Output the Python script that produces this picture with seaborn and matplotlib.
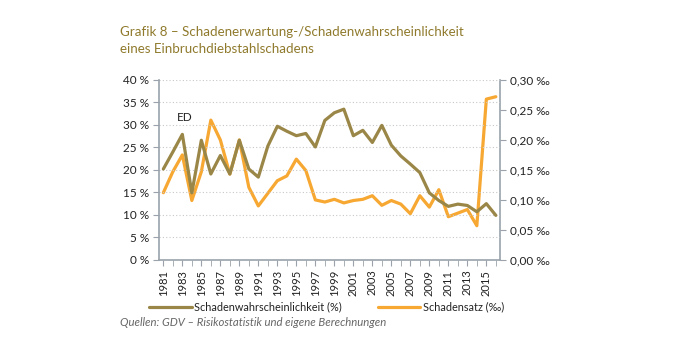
import matplotlib
matplotlib.use("Agg")
import matplotlib.pyplot as plt
import matplotlib.ticker as mticker
import pandas as pd
import seaborn as sns

# data
years = list(range(1981, 2017))
wahrscheinlichkeit = [20.2, 24.0, 27.9, 14.9, 26.6, 19.1, 23.2, 19.1, 26.6, 20.2,
                      18.4, 25.3, 29.7, 28.6, 27.6, 28.1, 25.1, 31.0, 32.7, 33.5,
                      27.6, 28.8, 26.1, 29.9, 25.5, 23.1, 21.3, 19.4, 14.9, 13.2,
                      11.9, 12.4, 12.1, 10.7, 12.5, 9.9]
schadensatz = [0.112, 0.147, 0.175, 0.099, 0.147, 0.233, 0.200, 0.143, 0.200, 0.121,
               0.090, 0.111, 0.132, 0.140, 0.168, 0.149, 0.100, 0.0965, 0.101, 0.095,
               0.099, 0.101, 0.107, 0.091, 0.099, 0.093, 0.077, 0.107, 0.088, 0.117,
               0.072, 0.078, 0.084, 0.057, 0.268, 0.272]

label_left = "Schadenwahrscheinlichkeit (%)"
label_right = "Schadensatz (‰)"

df = pd.DataFrame({"Jahr": years, "w": wahrscheinlichkeit, "s": schadensatz})

olive = "#9a8748"
orange = "#f7a832"
spine_col = "#9aa3ab"
title_col = "#8f7a2c"

sns.set_style("white")
plt.rcParams["font.family"] = ["Lato", "DejaVu Sans"]

fig = plt.figure(figsize=(6.74, 3.6), dpi=100)
ax = fig.add_axes([0.236, 0.278, 0.506, 0.5])
ax2 = ax.twinx()

sns.lineplot(data=df, x="Jahr", y="w", ax=ax, color=olive, lw=2.3, label=label_left, legend=False)
sns.lineplot(data=df, x="Jahr", y="s", ax=ax2, color=orange, lw=2.3, label=label_right, legend=False)

ax.set_xlim(1980.55, 2016.45)
ax.set_ylim(0, 40)
ax2.set_ylim(0, 0.30)
ax.set_zorder(ax2.get_zorder() + 1)
ax.patch.set_visible(False)

ax.set_yticks(range(0, 41, 5))
ax.yaxis.set_major_formatter(mticker.FuncFormatter(lambda v, p: f"{v:.0f} %"))
ax2.set_yticks([0, 0.05, 0.10, 0.15, 0.20, 0.25, 0.30])
ax2.yaxis.set_major_formatter(mticker.FuncFormatter(lambda v, p: f"{v:.2f} ‰".replace(".", ",")))

ax.set_xticks(range(1981, 2017, 2))
ax.set_xticklabels([str(y) for y in range(1981, 2017, 2)], rotation=90)
ax.set_xticks(range(1981, 2017), minor=True)

ax.grid(axis="y", color="#c8c8c8", ls=(0, (1, 2)), lw=0.8)
ax2.grid(False)
ax.set_xlabel("")
ax.set_ylabel("")
ax2.set_ylabel("")

for a in (ax, ax2):
    for s in a.spines.values():
        s.set_visible(False)
ax.spines["left"].set_visible(True)
ax.spines["bottom"].set_visible(True)
ax2.spines["right"].set_visible(True)
for s in (ax.spines["left"], ax.spines["bottom"], ax2.spines["right"]):
    s.set_color(spine_col)
    s.set_linewidth(1.2)

ax.tick_params(axis="y", which="both", left=True, length=4, color=spine_col, labelsize=8.5, labelcolor="#222222", pad=3)
ax.tick_params(axis="x", which="both", bottom=True, length=4, color=spine_col, labelsize=8, labelcolor="#222222", pad=3)
ax2.tick_params(axis="y", right=True, length=4, color=spine_col, labelsize=8.5, labelcolor="#222222", pad=3)

ax.text(1982.4, 30.9, "ED", fontsize=8.5, color="#222222")

fig.text(0.178, 0.9, "Grafik 8 – Schadenerwartung-/Schadenwahrscheinlichkeit", fontsize=9.6, color=title_col)
fig.text(0.178, 0.852, "eines Einbruchdiebstahlschadens", fontsize=9.6, color=title_col)

h1, l1 = ax.get_legend_handles_labels()
h2, l2 = ax2.get_legend_handles_labels()
fig.legend(h1 + h2, l1 + l2, loc="center left", bbox_to_anchor=(0.207, 0.147), ncol=2, frameon=False,
           fontsize=7.8, handlelength=3.9, handletextpad=0.25, columnspacing=3.3, labelcolor="#222222")

fig.text(0.178, 0.095, "Quellen: GDV – Risikostatistik und eigene Berechnungen", fontsize=8.2,
         style="italic", color="#666666")

fig.savefig("out.png", dpi=100)
